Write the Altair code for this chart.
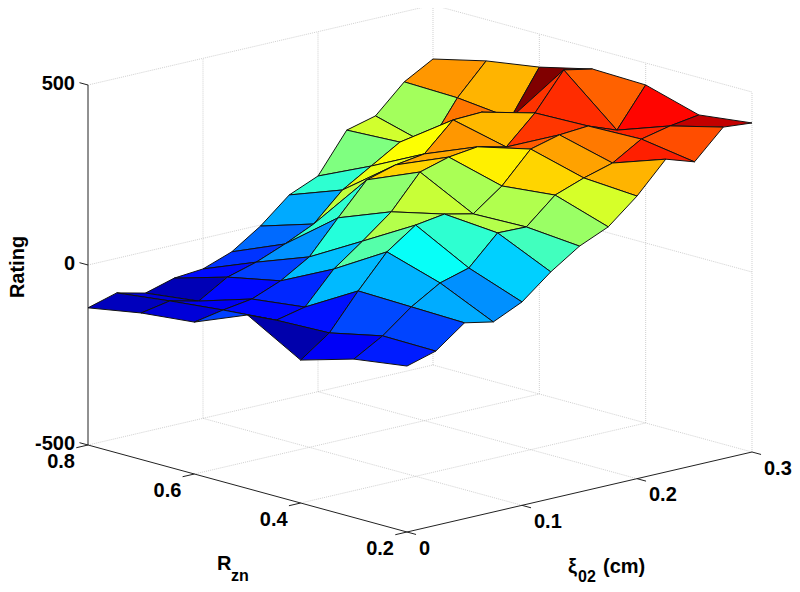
import altair as alt
import pandas as pd

# Surface data: one list per R_zn value, one entry per xi_02 value
xi_values = [0, 0.025, 0.05, 0.075, 0.1, 0.125, 0.15, 0.175, 0.2, 0.225, 0.25, 0.275, 0.3]
r_values = [0.8, 0.7, 0.6, 0.5, 0.4, 0.3, 0.2]
rating_r80 = [-119, -96, -115, -92, -85, -56, -3, 65, 99, 208, 229, 305, 350]
rating_r70 = [-93, -78, -97, -49, -26, 6, 43, 119, 167, 215, 188, 301, 385]
rating_r60 = [-78, -63, -51, -19, 29, 119, 206, 229, 241, 317, 320, 285, 408]
rating_r50 = [-18, -51, -33, 54, 113, 176, 268, 291, 301, 282, 358, 459, 443]
rating_r40 = [-103, -46, 52, 142, 198, 210, 192, 251, 335, 356, 362, 332, 439]
rating_r30 = [-60, -14, 48, 96, 119, 198, 196, 266, 295, 318, 366, 384, 396]
rating_r20 = [-39, -16, 44, 28, 65, 130, 183, 218, 285, 369, 343, 421, 414]
ratings = [rating_r80, rating_r70, rating_r60, rating_r50, rating_r40, rating_r30, rating_r20]

r_ticks = [0.8, 0.6, 0.4, 0.2]
xi_ticks = [0, 0.1, 0.2, 0.3]
z_ticks = [500, 0, -500]
R_MIN, R_MAX, XI_MIN, XI_MAX, Z_MIN, Z_MAX = 0.2, 0.8, 0.0, 0.3, -500, 500

# Oblique view of the 3-D box, the same linear map for every mark
def project(r, xi, z):
    a = (R_MAX - r) / (R_MAX - R_MIN)
    b = (xi - XI_MIN) / (XI_MAX - XI_MIN)
    c = (z - Z_MIN) / (Z_MAX - Z_MIN)
    return 88 + 319 * a + 345 * b, 445 + 87 * a - 80 * b - 360 * c

# Faces, painted from the back corner to the front corner
rows = []
for i in range(len(r_values) - 1):
    for j in range(len(xi_values) - 2, -1, -1):
        corners = [(i, j), (i, j + 1), (i + 1, j + 1), (i + 1, j), (i, j)]
        colour_value = ratings[i + 1][j]
        for k, (a, b) in enumerate(corners):
            px, py = project(r_values[a], xi_values[b], ratings[a][b])
            rows.append({"face": f"{i:02d}-{11 - j:02d}", "k": k, "px": px, "py": py, "rating": colour_value})
faces = pd.DataFrame(rows)

def seg(p, q):
    return {"x1": p[0], "y1": p[1], "x2": q[0], "y2": q[1]}

grid = []
for z in [Z_MIN, 0, Z_MAX]:
    grid.append(seg(project(R_MAX, XI_MIN, z), project(R_MAX, XI_MAX, z)))
    grid.append(seg(project(R_MAX, XI_MAX, z), project(R_MIN, XI_MAX, z)))
for r in [0.6, 0.4]:
    grid.append(seg(project(r, XI_MIN, Z_MIN), project(r, XI_MAX, Z_MIN)))
    grid.append(seg(project(r, XI_MAX, Z_MIN), project(r, XI_MAX, Z_MAX)))
for xi in [0.1, 0.2]:
    grid.append(seg(project(R_MIN, xi, Z_MIN), project(R_MAX, xi, Z_MIN)))
    grid.append(seg(project(R_MAX, xi, Z_MIN), project(R_MAX, xi, Z_MAX)))
grid.append(seg(project(R_MAX, XI_MAX, Z_MIN), project(R_MAX, XI_MAX, Z_MAX)))
grid.append(seg(project(R_MIN, XI_MAX, Z_MIN), project(R_MIN, XI_MAX, Z_MAX)))
grid = pd.DataFrame(grid)

axes_segs = [
    seg(project(R_MAX, XI_MIN, Z_MIN), project(R_MAX, XI_MIN, Z_MAX)),
    seg(project(R_MAX, XI_MIN, Z_MIN), project(R_MIN, XI_MIN, Z_MIN)),
    seg(project(R_MIN, XI_MIN, Z_MIN), project(R_MIN, XI_MAX, Z_MIN)),
]
for z in z_ticks:
    axes_segs.append(seg(project(R_MAX + 0.016, XI_MIN, z), project(R_MAX, XI_MIN, z)))
for r in r_ticks:
    axes_segs.append(seg(project(r, XI_MIN - 0.0102, Z_MIN), project(r, XI_MIN, Z_MIN)))
for xi in xi_ticks:
    axes_segs.append(seg(project(R_MIN - 0.017, xi, Z_MIN), project(R_MIN, xi, Z_MIN)))
axes_df = pd.DataFrame(axes_segs)

def label_rows(values, positions, dx, dy):
    return pd.DataFrame([
        {"label": f"{v:g}", "px": p[0] + dx, "py": p[1] + dy} for v, p in zip(values, positions)
    ])

z_labels = label_rows(z_ticks, [project(R_MAX, XI_MIN, z) for z in z_ticks], -13, -1.5)
r_labels = label_rows(r_ticks, [project(r, XI_MIN, Z_MIN) for r in r_ticks], -13, 17)
xi_labels = label_rows(xi_ticks, [project(R_MIN, xi, Z_MIN) for xi in xi_ticks], 12, 16.5)

FONT = "Liberation Sans"
xs = alt.Scale(domain=[8, 792], range=[0, 784], nice=False, zero=False)
ys = alt.Scale(domain=[8, 584], range=[0, 576], nice=False, zero=False)
X = alt.X("px:Q", scale=xs, axis=None)
Y = alt.Y("py:Q", scale=ys, axis=None)

def rules(df, **kw):
    return alt.Chart(df).mark_rule(**kw).encode(
        x=alt.X("x1:Q", scale=xs, axis=None), y=alt.Y("y1:Q", scale=ys, axis=None),
        x2="x2:Q", y2="y2:Q")

def tick_text(df, align):
    return alt.Chart(df).mark_text(font=FONT, fontSize=20, fontWeight="bold", align=align,
                                   baseline="middle", color="black").encode(x=X, y=Y, text="label:N")

def title_text(s, x, y, size=20, angle=0, align="left"):
    return alt.Chart(pd.DataFrame({"label": [s]})).mark_text(
        font=FONT, fontSize=size, fontWeight="bold", align=align, baseline="alphabetic",
        angle=angle, color="black"
    ).encode(x=alt.value(x - 8), y=alt.value(y - 8), text="label:N")

zmin, zmax = -119, 459
span = zmax - zmin
jet_stops = [0, 0.11, 0.365, 0.625, 0.875, 1]
jet_colours = ["#000090", "#0000ff", "#00ffff", "#ffff00", "#ff0000", "#800000"]
fill_scale = alt.Scale(domain=[zmin + t * span for t in jet_stops], range=jet_colours, interpolate="rgb")

surface = alt.Chart(faces).mark_line(stroke="#111111", strokeWidth=1, strokeJoin="miter", interpolate="linear").encode(
    x=X, y=Y,
    detail="face:N",
    order="k:Q",
    fill=alt.Fill("rating:Q", scale=fill_scale, legend=None),
)

chart = alt.layer(
    rules(grid, color="#bbbbbb", strokeWidth=0.7, strokeDash=[1, 1]),
    rules(axes_df, color="#222222", strokeWidth=1),
    surface,
    tick_text(z_labels, "right"),
    tick_text(r_labels, "right"),
    tick_text(xi_labels, "left"),
    title_text("Rating", 24, 267, angle=270, align="center"),
    title_text("R", 217, 570),
    title_text("zn", 231, 581, size=16),
    title_text("ξ", 568, 573),
    title_text("02", 578, 582, size=16),
    title_text("(cm)", 603, 573),
).properties(width=784, height=576, padding=0, autosize=alt.AutoSizeParams(type="none"),
             background="white").configure_view(stroke=None)

chart.save("out.html", embed_options={"renderer": "svg", "actions": False})
